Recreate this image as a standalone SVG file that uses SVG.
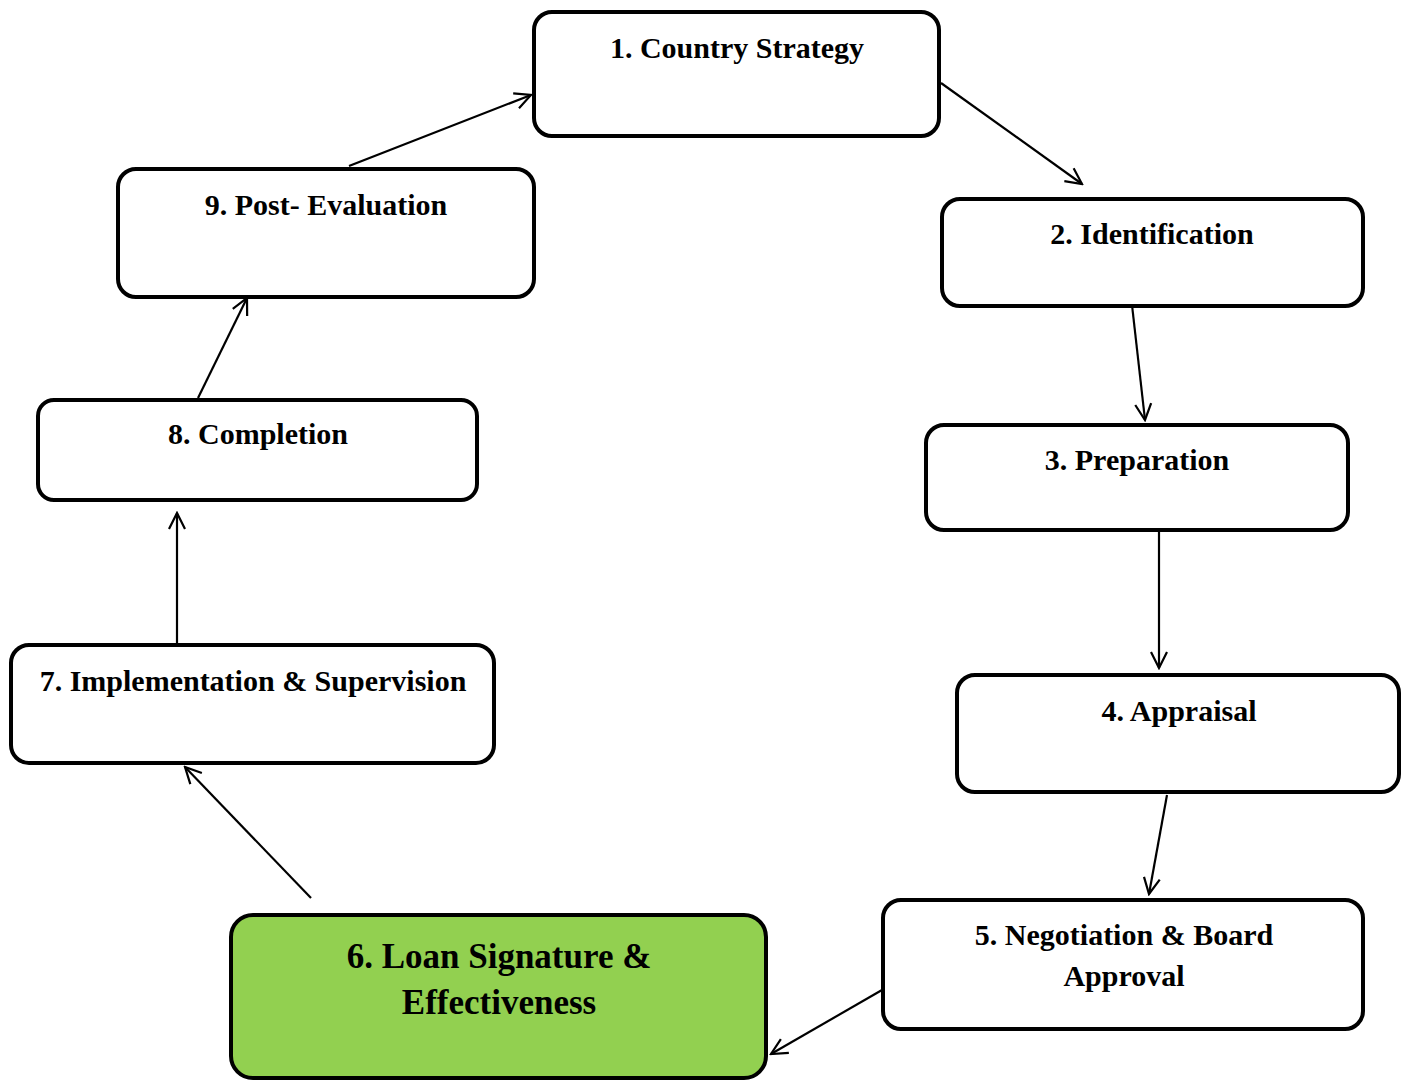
<svg xmlns="http://www.w3.org/2000/svg" width="1411" height="1081" viewBox="0 0 1411 1081">
<style>
.box{fill:#fff;stroke:#000;stroke-width:4}
.green{fill:#92D050}
.t{font-family:"Liberation Serif","Times New Roman",serif;font-weight:bold;font-size:30px;fill:#000;text-anchor:middle}
.big{font-size:35px}
.c{stroke:#000;stroke-width:2.2;fill:none}
</style>
<defs>
<marker id="ah" viewBox="0 0 20 20" refX="18" refY="10" markerWidth="20" markerHeight="20" markerUnits="userSpaceOnUse" orient="auto">
<path d="M2,2 L18,10 L2,18" fill="none" stroke="#000" stroke-width="2.2"/>
</marker>
</defs>
<rect width="1411" height="1081" fill="#fff"/>
<g id="connectors">
<line class="c" x1="349" y1="166" x2="531" y2="95" marker-end="url(#ah)"/>
<line class="c" x1="941" y1="83" x2="1082" y2="184" marker-end="url(#ah)"/>
<line class="c" x1="1132" y1="305" x2="1145" y2="420" marker-end="url(#ah)"/>
<line class="c" x1="1159" y1="532" x2="1159" y2="668" marker-end="url(#ah)"/>
<line class="c" x1="1167" y1="795" x2="1149" y2="894" marker-end="url(#ah)"/>
<line class="c" x1="882" y1="990" x2="771" y2="1054" marker-end="url(#ah)"/>
<line class="c" x1="311" y1="898" x2="185" y2="767" marker-end="url(#ah)"/>
<line class="c" x1="177" y1="643" x2="177" y2="513" marker-end="url(#ah)"/>
<line class="c" x1="198" y1="398" x2="247" y2="298" marker-end="url(#ah)"/>
</g>
<g id="n1"><rect class="box" x="534" y="12" width="405" height="124" rx="18"/><text class="t" x="737" y="58">1. Country Strategy</text></g>
<g id="n2"><rect class="box" x="942" y="199" width="421" height="107" rx="18"/><text class="t" x="1152" y="244">2. Identification</text></g>
<g id="n3"><rect class="box" x="926" y="425" width="422" height="105" rx="18"/><text class="t" x="1137" y="470">3. Preparation</text></g>
<g id="n4"><rect class="box" x="957" y="675" width="442" height="117" rx="18"/><text class="t" x="1179" y="721">4. Appraisal</text></g>
<g id="n5"><rect class="box" x="883" y="900" width="480" height="129" rx="18"/><text class="t" x="1124" y="945">5. Negotiation &amp; Board</text><text class="t" x="1124" y="986">Approval</text></g>
<g id="n6"><rect class="box green" x="231" y="915" width="535" height="163" rx="22"/><text class="t big" x="499" y="968">6. Loan Signature &amp;</text><text class="t big" x="499" y="1014">Effectiveness</text></g>
<g id="n7"><rect class="box" x="11" y="645" width="483" height="118" rx="18"/><text class="t" x="253" y="691">7. Implementation &amp; Supervision</text></g>
<g id="n8"><rect class="box" x="38" y="400" width="439" height="100" rx="16"/><text class="t" x="258" y="444">8. Completion</text></g>
<g id="n9"><rect class="box" x="118" y="169" width="416" height="128" rx="18"/><text class="t" x="326" y="215">9. Post- Evaluation</text></g>
</svg>
